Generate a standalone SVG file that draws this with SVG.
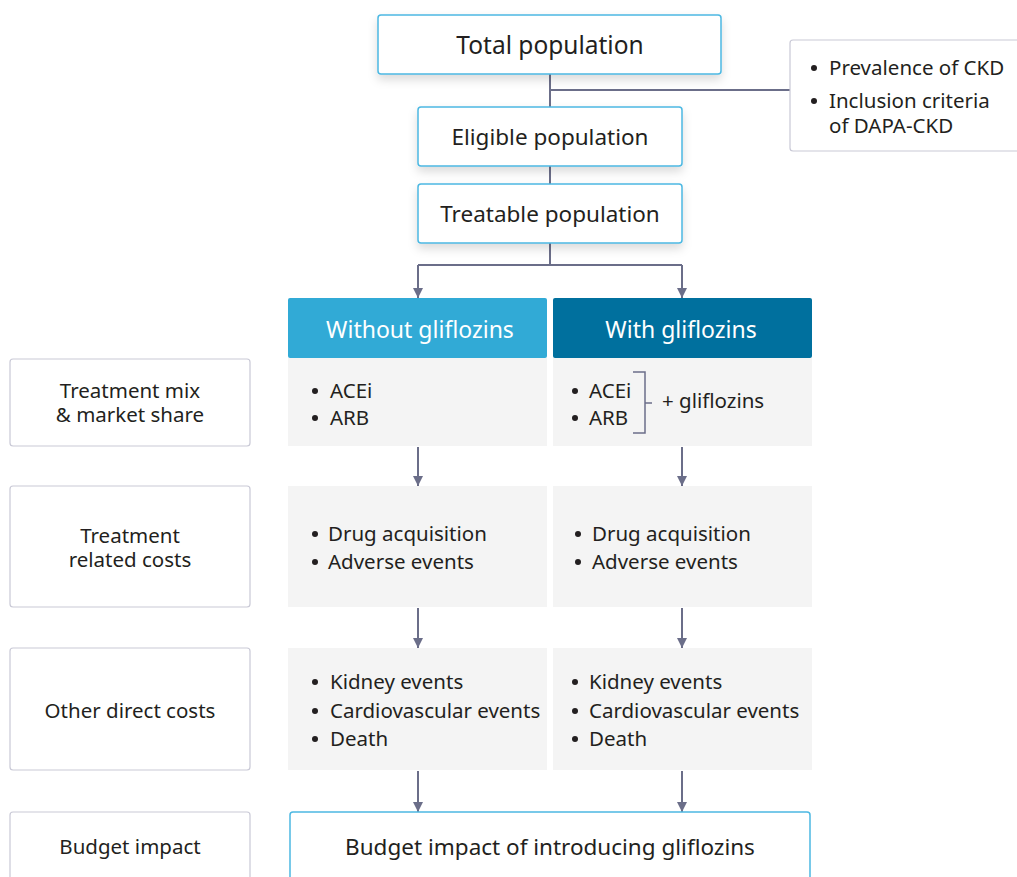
<svg xmlns="http://www.w3.org/2000/svg" width="1017" height="877" viewBox="0 0 1017 877">
<defs>
<filter id="sh" x="-10%" y="-20%" width="120%" height="170%">
<feDropShadow dx="0" dy="5" stdDeviation="5" flood-color="#000" flood-opacity="0.14"/>
</filter>
<marker id="ah" viewBox="0 0 10 10" refX="10" refY="5" markerWidth="10" markerHeight="10" markerUnits="userSpaceOnUse" orient="auto">
<path d="M0,0 L10,5 L0,10 z" fill="#6b6e89"/>
</marker>
<style>
text{font-family:"Noto Sans","Open Sans",sans-serif;fill:#231f20;}
.blue{fill:#fff;stroke:#4cb8e2;stroke-width:1.5;}
.gbox{fill:#fff;stroke:#c9c9d6;stroke-width:1.2;}
.cell{fill:#f4f4f4;}
.t24{font-size:24.5px;}
.t22{font-size:22.5px;}
.t20{font-size:20.5px;}
.dot{fill:#231f20;}
.mid{text-anchor:middle;}
.hd{fill:#fff;font-size:23px;text-anchor:middle;}
.ln{fill:none;stroke:#6b6e89;stroke-width:2;}
</style>
</defs>

<g id="connectors">
<path class="ln" d="M550,74 V107"/>
<path class="ln" d="M550,90 H790"/>
<path class="ln" d="M550,166 V184"/>
<path class="ln" d="M550,243 V265 M418,265 H682"/>
<path class="ln" d="M418,265 V298" marker-end="url(#ah)"/>
<path class="ln" d="M682,265 V298" marker-end="url(#ah)"/>
<path class="ln" d="M418,447 V486" marker-end="url(#ah)"/>
<path class="ln" d="M682,447 V486" marker-end="url(#ah)"/>
<path class="ln" d="M418,608 V648" marker-end="url(#ah)"/>
<path class="ln" d="M682,608 V648" marker-end="url(#ah)"/>
<path class="ln" d="M418,771 V812" marker-end="url(#ah)"/>
<path class="ln" d="M682,771 V812" marker-end="url(#ah)"/>
</g>

<g id="total">
<rect class="blue" x="378" y="15" width="343" height="59" rx="3" filter="url(#sh)"/>
<text class="t24 mid" x="550" y="54">Total population</text>
</g>

<g id="criteria">
<rect class="gbox" x="790" y="40" width="235" height="111" rx="3"/>
<circle class="dot" cx="814" cy="68" r="3"/>
<text class="t20" x="829" y="75">Prevalence of CKD</text>
<circle class="dot" cx="814" cy="101" r="3"/>
<text class="t20" x="829" y="108">Inclusion criteria<tspan x="829" dy="25">of DAPA-CKD</tspan></text>
</g>

<g id="eligible">
<rect class="blue" x="418" y="107" width="264" height="59" rx="3" filter="url(#sh)"/>
<text class="t22 mid" x="550" y="145">Eligible population</text>
</g>

<g id="treatable">
<rect class="blue" x="418" y="184" width="264" height="59" rx="3" filter="url(#sh)"/>
<text class="t22 mid" x="550" y="222">Treatable population</text>
</g>

<g id="without-header">
<rect x="288" y="298" width="259" height="60" rx="2" fill="#31aad6"/>
<text class="hd" x="420" y="338">Without gliflozins</text>
</g>

<g id="with-header">
<rect x="553" y="298" width="259" height="60" rx="2" fill="#00709e"/>
<text class="hd" x="681" y="338">With gliflozins</text>
</g>

<g id="label-mix">
<rect class="gbox" x="10" y="359" width="240" height="87" rx="3"/>
<text class="t20 mid" x="130" y="398">Treatment mix<tspan x="130" dy="24">&amp; market share</tspan></text>
</g>

<g id="without-mix">
<rect class="cell" x="288" y="358" width="259" height="88"/>
<circle class="dot" cx="315" cy="391" r="3"/>
<text class="t20" x="330" y="398">ACEi</text>
<circle class="dot" cx="315" cy="418" r="3"/>
<text class="t20" x="330" y="425">ARB</text>
</g>

<g id="with-mix">
<rect class="cell" x="553" y="358" width="259" height="88"/>
<circle class="dot" cx="575" cy="391" r="3"/>
<text class="t20" x="589" y="398">ACEi</text>
<circle class="dot" cx="575" cy="418" r="3"/>
<text class="t20" x="589" y="425">ARB</text>
<path d="M633,372 H645 V433 H633 M645,403 H652" fill="none" stroke="#6b6e89" stroke-width="1.5"/>
<text class="t20" x="662" y="408">+ gliflozins</text>
</g>

<g id="label-costs">
<rect class="gbox" x="10" y="486" width="240" height="121" rx="3"/>
<text class="t20 mid" x="130" y="543">Treatment<tspan x="130" dy="24">related costs</tspan></text>
</g>

<g id="without-costs">
<rect class="cell" x="288" y="486" width="259" height="121"/>
<circle class="dot" cx="315" cy="534" r="3"/>
<text class="t20" x="328" y="541">Drug acquisition</text>
<circle class="dot" cx="315" cy="562" r="3"/>
<text class="t20" x="328" y="569">Adverse events</text>
</g>

<g id="with-costs">
<rect class="cell" x="553" y="486" width="259" height="121"/>
<circle class="dot" cx="578" cy="534" r="3"/>
<text class="t20" x="592" y="541">Drug acquisition</text>
<circle class="dot" cx="578" cy="562" r="3"/>
<text class="t20" x="592" y="569">Adverse events</text>
</g>

<g id="label-other">
<rect class="gbox" x="10" y="648" width="240" height="122" rx="3"/>
<text class="t20 mid" x="130" y="718">Other direct costs</text>
</g>

<g id="without-other">
<rect class="cell" x="288" y="648" width="259" height="122"/>
<circle class="dot" cx="315" cy="682" r="3"/>
<text class="t20" x="330" y="689">Kidney events</text>
<circle class="dot" cx="315" cy="711" r="3"/>
<text class="t20" x="330" y="718">Cardiovascular events</text>
<circle class="dot" cx="315" cy="739" r="3"/>
<text class="t20" x="330" y="746">Death</text>
</g>

<g id="with-other">
<rect class="cell" x="553" y="648" width="259" height="122"/>
<circle class="dot" cx="575" cy="682" r="3"/>
<text class="t20" x="589" y="689">Kidney events</text>
<circle class="dot" cx="575" cy="711" r="3"/>
<text class="t20" x="589" y="718">Cardiovascular events</text>
<circle class="dot" cx="575" cy="739" r="3"/>
<text class="t20" x="589" y="746">Death</text>
</g>

<g id="label-budget">
<rect class="gbox" x="10" y="812" width="240" height="80" rx="3"/>
<text class="t20 mid" x="130" y="854">Budget impact</text>
</g>

<g id="budget">
<rect class="blue" x="290" y="812" width="520" height="80" rx="3"/>
<text class="t22 mid" x="550" y="855">Budget impact of introducing gliflozins</text>
</g>
</svg>
